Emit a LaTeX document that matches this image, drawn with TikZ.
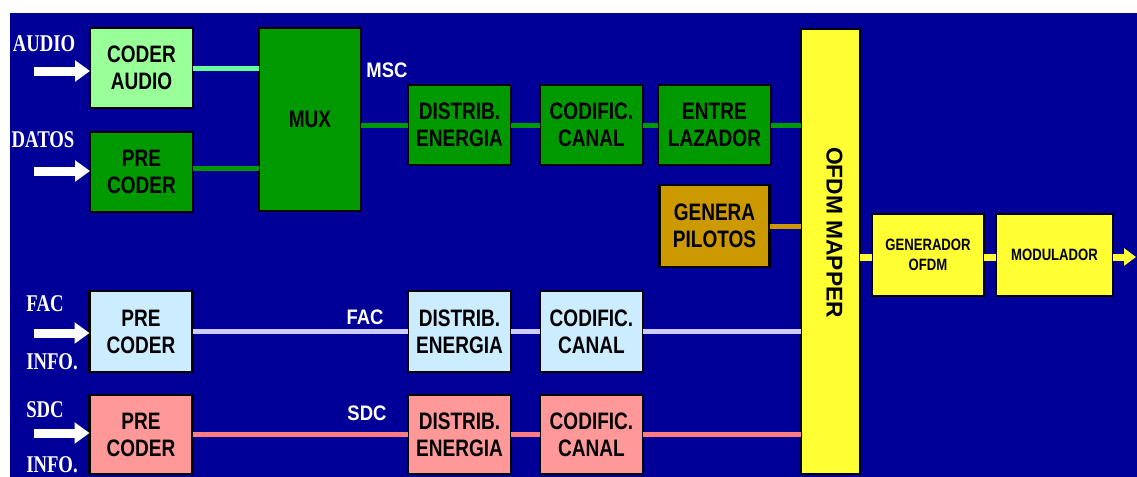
\documentclass[tikz,border=0pt]{standalone}
\usepackage{fontspec}
\usepackage{color}
\usepackage{tikz}
\usetikzlibrary{positioning,arrows.meta}
\newfontfamily\blkfont[FakeStretch=0.8]{Liberation Sans}
\newfontfamily\lblfont[FakeStretch=0.78]{Liberation Serif}
\newfontfamily\tagfont[FakeStretch=0.88]{Liberation Sans}
\newfontfamily\mapfont{Liberation Sans}
\definecolor{bgblue}{HTML}{000099}
\definecolor{lgreen}{HTML}{99FF99}
\definecolor{dgreen}{HTML}{009900}
\definecolor{aqua}{HTML}{66FF99}
\definecolor{lblue}{HTML}{CCECFF}
\definecolor{lav}{HTML}{CCCCFF}
\definecolor{pink}{HTML}{FF9999}
\definecolor{salmon}{HTML}{FF7C80}
\definecolor{gold}{HTML}{CC9900}
\definecolor{yel}{HTML}{FFFF33}
\tikzset{  blk/.style={draw=black,line width=1.2pt,inner sep=0pt,outer sep=0pt,align=center,text=black,minimum width=51.5pt,minimum height=40pt,font=\blkfont\bfseries\fontsize{11.9}{13.5}\selectfont} }
\tikzset{  smallblk/.style={blk,fill=yel,minimum height=41pt,font=\blkfont\bfseries\fontsize{8.2}{9.7}\selectfont} }
\tikzset{  link/.style={line width=2.5pt} }
\tikzset{  inarrow/.style={draw=white,line width=4.5pt,-{Triangle[length=7.5pt,width=10.3pt]}} }
\tikzset{  outarrow/.style={draw=yel,line width=3.5pt,-{Triangle[length=6pt,width=8.5pt]}} }
\tikzset{  lbl/.style={text=white,inner sep=0pt,font=\lblfont\bfseries\fontsize{12}{14}\selectfont} }
\tikzset{  tag/.style={text=white,inner sep=0pt,font=\tagfont\bfseries\fontsize{10.5}{12}\selectfont} }

\begin{document}
\begin{tikzpicture}[x=0.5pt,y=-0.5pt]
   \useasboundingbox (0,0) rectangle (1137,477);
   \fill[bgblue] (10,13) rectangle (1137,477);
   % MSC
   \node[blk,fill=lgreen] (coda) at (141.5,68) {CODER\\AUDIO};
   \node[blk,fill=dgreen,below=12pt of coda] (preda) {PRE\\CODER};
   \node[blk,fill=dgreen,minimum width=51pt,minimum height=91.5pt] (mux) at (310,119.5) {MUX};
   \node[blk,fill=dgreen] (distm) at (459.5,125) {DISTRIB.\\ENERGIA};
   \node[blk,fill=dgreen,right=14.5pt of distm] (codm) {CODIFIC.\\CANAL};
   \node[blk,fill=dgreen,minimum width=56.5pt,right=7.5pt of codm] (entre) {ENTRE\\LAZADOR};
   \node[blk,fill=gold,minimum width=55pt,minimum height=41pt,below=10pt of entre] (pilot) {GENERA\\PILOTOS};
   \node[blk,fill=yel,minimum width=29.5pt,minimum height=222.5pt,
     label={[xshift=2pt,yshift=9.5pt,rotate=-90,font=\mapfont\bfseries\fontsize{11.4}{13}\selectfont]center:OFDM MAPPER}] (ofdm) at (830.5,251.5) {};
   \node[smallblk,minimum width=56pt] (gen) at (928,255) {GENERADOR\\OFDM};
   \node[smallblk,minimum width=58.5pt,right=6pt of gen] (modu) {MODULADOR};
   % FAC
   \node[blk,fill=lblue,minimum height=40.5pt] (precf) at (141,331.5) {PRE\\CODER};
   \node[blk,fill=lblue,minimum height=40.5pt] (distf) at (459.5,331.5) {DISTRIB.\\ENERGIA};
   \node[blk,fill=lblue,minimum height=40.5pt,right=14.5pt of distf] (codf) {CODIFIC.\\CANAL};
   % SDC
   \node[blk,fill=pink,minimum height=39.5pt] (precs) at (141,434.5) {PRE\\CODER};
   \node[blk,fill=pink,minimum height=39.5pt] (dists) at (459.5,434.5) {DISTRIB.\\ENERGIA};
   \node[blk,fill=pink,minimum height=39.5pt,right=14.5pt of dists] (cods) {CODIFIC.\\CANAL};
   % labels
   \node[lbl] (laudio) at (44,44) {AUDIO};
   \node[lbl] (ldatos) at (43,140) {DATOS};
   \node[lbl] (lfac) at (45,304) {FAC};
   \node[lbl] (linfof) at (52,362) {INFO.};
   \node[lbl] (lsdc) at (45,410) {SDC};
   \node[lbl] (linfos) at (52,465) {INFO.};
   \node[tag] (tmsc) at (387,70) {MSC};
   \node[tag] (tfac) at (365,317) {FAC};
   \node[tag] (tsdc) at (367,413) {SDC};
   % inputs
   \coordinate (ina) at (34,71);
   \coordinate (ind) at (34,171);
   \coordinate (inf) at (34,333);
   \coordinate (ins) at (34,433);
   \coordinate (out) at (1136,257);
   \draw[inarrow] (ina) -- (ina -| coda.west);
   \draw[inarrow] (ind) -- (ind -| preda.west);
   \draw[inarrow] (inf) -- (inf -| precf.west);
   \draw[inarrow] (ins) -- (ins -| precs.west);
   % links
   \draw[link,aqua] (coda.east) -- (coda.east -| mux.west);
   \draw[link,dgreen] ([yshift=2pt]preda.east) -- ([yshift=2pt]preda.east -| mux.west);
   \draw[link,dgreen] (mux.east |- distm.west) -- (distm.west);
   \draw[link,dgreen] (distm) -- (codm);
   \draw[link,dgreen] (codm) -- (entre);
   \draw[link,dgreen] (entre.east) -- (entre.east -| ofdm.west);
   \draw[link,gold] (pilot.east) -- (pilot.east -| ofdm.west);
   \draw[link,lav] (precf) -- (distf);
   \draw[link,lav] (distf) -- (codf);
   \draw[link,lav] (codf.east) -- (codf.east -| ofdm.west);
   \draw[link,salmon] (precs) -- (dists);
   \draw[link,salmon] (dists) -- (cods);
   \draw[link,salmon] (cods.east) -- (cods.east -| ofdm.west);
   \draw[link,yel,line width=3.5pt] (ofdm.east |- out) -- (out -| gen.west);
   \draw[link,yel,line width=3.5pt] (out -| gen.east) -- (out -| modu.west);
   \draw[outarrow] (out -| modu.east) -- (out);
  \end{tikzpicture}
\end{document}
